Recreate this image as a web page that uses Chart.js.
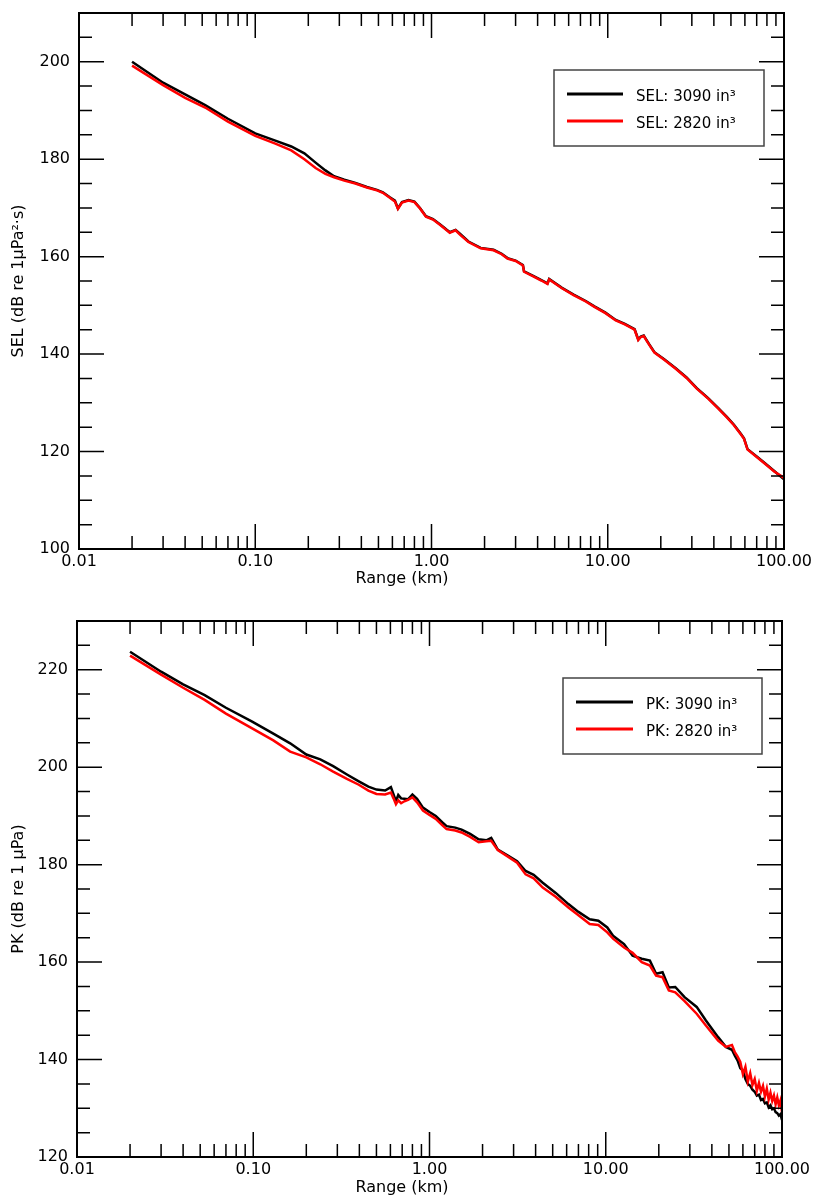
<!DOCTYPE html>
<html>
<head>
<meta charset="utf-8">
<script src="https://cdn.jsdelivr.net/npm/chart.js@4.4.1/dist/chart.umd.min.js"></script>
<style>
    html, body { margin: 0; padding: 0; background: #fff; overflow: hidden; }
    .panel { position: absolute; left: 0; width: 817px; height: 599px; }
</style>
</head>
<body>
<div class="panel" style="top:-10px"><canvas id="sel-chart" width="817" height="599"></canvas></div>
<div class="panel" style="top:599px"><canvas id="pk-chart" width="817" height="599"></canvas></div>
<script>
// Range (km) for the SEL panel
const rangeSel = [0.02, 0.03, 0.04, 0.052, 0.07, 0.1, 0.13, 0.16, 0.19, 0.22, 0.25, 0.28, 0.32, 0.37, 0.43,
    0.49, 0.53, 0.58, 0.62, 0.645, 0.68, 0.74, 0.8, 0.86, 0.93, 1.02, 1.13, 1.22, 1.27, 1.37, 1.45, 1.62,
    1.9, 2.25, 2.5, 2.7, 3.0, 3.3, 3.35, 3.8, 4.2, 4.55, 4.65, 5.5, 6.4, 7.5, 8.4, 9.7, 11.1, 12.5, 14.2,
    14.9, 15.4, 16.0, 17.2, 18.4, 21, 24.3, 28, 32, 37, 42.4, 47.4, 52, 57, 59.3, 62.1, 70, 78, 88, 100];
const sel3090 = [200.0, 195.7, 193.3, 191.1, 188.3, 185.3, 183.8, 182.6, 181.2, 179.3, 177.7, 176.5, 175.8, 175.1, 174.3,
    173.7, 173.2, 172.2, 171.5, 169.9, 171.2, 171.6, 171.3, 170.0, 168.3, 167.7, 166.5, 165.5, 165.0, 165.5, 164.7, 163.1,
    161.8, 161.4, 160.6, 159.7, 159.2, 158.3, 157.0, 156.0, 155.2, 154.5, 155.4, 153.6, 152.2, 150.9, 149.8, 148.5, 147.0, 146.2, 145.1,
    143.0, 143.6, 143.8, 142.0, 140.4, 138.9, 137.1, 135.2, 133.0, 131.0, 128.9, 127.1, 125.5, 123.6, 122.7, 120.5, 119.0, 117.6, 116.0, 114.3];
const sel2820 = [199.2, 195.2, 192.6, 190.6, 187.7, 184.8, 183.2, 181.8, 180.0, 178.2, 177.0, 176.3, 175.6, 175.0, 174.2,
    173.6, 173.1, 172.1, 171.3, 169.8, 171.1, 171.5, 171.2, 169.9, 168.2, 167.6, 166.4, 165.4, 164.9, 165.4, 164.5, 163.0,
    161.7, 161.3, 160.5, 159.6, 159.1, 158.2, 156.9, 155.9, 155.1, 154.4, 155.3, 153.5, 152.1, 150.8, 149.7, 148.4, 146.9, 146.1, 145.0,
    142.9, 143.5, 143.7, 141.9, 140.3, 138.8, 137.0, 135.1, 132.9, 130.9, 128.8, 127.0, 125.4, 123.5, 122.6, 120.4, 118.9, 117.5, 115.9, 114.6];

// Range (km) for the PK panel
const rangePk = [0.02, 0.03, 0.04, 0.053, 0.07, 0.098, 0.13, 0.162, 0.2, 0.24, 0.284, 0.34, 0.397, 0.45, 0.5, 0.56,
    0.604, 0.625, 0.645, 0.665, 0.69, 0.72, 0.755, 0.8, 0.85, 0.918, 1.0, 1.085, 1.18, 1.25, 1.4, 1.52, 1.7, 1.9,
    2.1, 2.24, 2.44, 2.8, 3.14, 3.51, 3.9, 4.39, 5.2, 6.14, 7.0, 8.11, 9.08, 10.2, 11.0, 12.7, 14.2, 16, 17.8,
    19.3, 21.0, 22.8, 24.8, 28, 32.8, 37, 43.4, 48, 52, 54, 56, 58, 60, 62, 64, 66, 68, 70, 72, 74, 76, 78, 80,
    82, 84, 86, 88, 90, 92, 94, 96, 98, 100];
const pk3090 = [223.7, 219.6, 217.0, 214.8, 212.2, 209.4, 206.9, 204.9, 202.6, 201.6, 200.2, 198.5, 197.1, 196.0, 195.4, 195.2,
    195.9, 194.4, 193.0, 194.3, 193.6, 193.5, 193.4, 194.4, 193.5, 191.7, 190.8, 190.0, 188.7, 187.9, 187.6, 187.2, 186.3, 185.2,
    185.0, 185.5, 183.1, 181.8, 180.7, 178.7, 177.9, 176.3, 174.2, 171.9, 170.3, 168.8, 168.5, 167.1, 165.4, 163.7, 161.3, 160.7, 160.3,
    157.6, 157.9, 154.8, 154.9, 152.8, 150.8, 148.0, 144.6, 142.6, 142.0, 140.8, 139.8, 138.2, 137.8, 136.0, 135.0, 134.6, 133.8, 133.4, 132.6, 132.8, 131.7, 131.9, 131.0,
    131.2, 130.2, 130.6, 129.8, 130.0, 129.2, 129.0, 128.5, 128.8, 127.6];
const pk2820 = [222.9, 219.0, 216.3, 213.8, 211.0, 208.0, 205.5, 203.2, 202.0, 200.6, 199.1, 197.6, 196.4, 195.2, 194.5, 194.4,
    194.8, 193.6, 192.4, 193.2, 192.6, 193.0, 193.3, 193.8, 192.8, 191.1, 190.2, 189.4, 188.1, 187.3, 187.0, 186.6, 185.7, 184.6,
    184.8, 184.9, 183.0, 181.6, 180.4, 178.0, 177.2, 175.3, 173.4, 171.2, 169.6, 167.8, 167.6, 166.1, 164.8, 163.0, 161.9, 160.0, 159.3,
    157.2, 156.9, 154.2, 153.8, 152.0, 149.4, 147.0, 143.9, 142.6, 143.0, 141.5, 140.6, 139.5, 137.0, 138.5, 135.5, 137.2, 134.8, 136.0, 133.6, 135.2, 133.4, 134.6, 132.4,
    134.0, 131.8, 133.2, 131.5, 132.6, 130.8, 132.2, 130.6, 131.6, 129.2];

const rangeTicks = [0.01, 0.1, 1, 10, 100];
const selTicks = [100, 120, 140, 160, 180, 200];
const pkTicks = [120, 140, 160, 180, 200, 220];
const selLabels = ['SEL: 3090 in³', 'SEL: 2820 in³'];
const pkLabels = ['PK: 3090 in³', 'PK: 2820 in³'];

const FONT = '"DejaVu Sans", Verdana, sans-serif';
Chart.defaults.font.family = FONT;
Chart.defaults.color = '#000';

// Frame, inward ticks on all four sides, axis titles and the legend box
const boxAxes = {
    id: 'boxAxes',
    afterDatasetsDraw(chart, args, opts) {
        const ctx = chart.ctx;
        const a = chart.chartArea;
        const x = chart.scales.x, y = chart.scales.y;
        ctx.save();

        // ticks
        ctx.strokeStyle = '#000';
        ctx.lineWidth = 1.5;
        ctx.beginPath();
        for (let e = -2; e < 2; e++) {
            for (let m = 1; m < 10; m++) {
                const px = x.getPixelForValue(m * Math.pow(10, e));
                const len = m === 1 ? 25 : 13;
                ctx.moveTo(px, a.bottom); ctx.lineTo(px, a.bottom - len);
                ctx.moveTo(px, a.top); ctx.lineTo(px, a.top + len);
            }
        }
        for (let v = y.min; v <= y.max; v += 5) {
            const py = y.getPixelForValue(v);
            const len = v % 20 === 0 ? 25 : 13;
            ctx.moveTo(a.left, py); ctx.lineTo(a.left + len, py);
            ctx.moveTo(a.right, py); ctx.lineTo(a.right - len, py);
        }
        ctx.stroke();

        // frame
        ctx.lineWidth = 2;
        ctx.strokeRect(a.left, a.top, a.right - a.left, a.bottom - a.top);

        // axis titles
        ctx.fillStyle = '#000';
        ctx.font = '16px ' + FONT;
        ctx.textAlign = 'center';
        ctx.textBaseline = 'middle';
        ctx.fillText(opts.xTitle, opts.xTitleX, a.bottom + opts.xTitleDy);
        ctx.save();
        ctx.translate(opts.yTitleX, (a.top + a.bottom) / 2);
        ctx.rotate(-Math.PI / 2);
        ctx.fillText(opts.yTitle, 0, 0);
        ctx.restore();

        // legend
        const L = opts.legend;
        ctx.fillStyle = '#fff';
        ctx.fillRect(L.left, L.top, L.right - L.left, L.bottom - L.top);
        ctx.strokeStyle = '#444';
        ctx.lineWidth = 1.5;
        ctx.strokeRect(L.left, L.top, L.right - L.left, L.bottom - L.top);
        ctx.font = '15px ' + FONT;
        ctx.textAlign = 'left';
        ctx.textBaseline = 'alphabetic';
        chart.data.datasets.forEach((ds, i) => {
            const yy = L.rows[i];
            ctx.strokeStyle = ds.borderColor;
            ctx.lineWidth = 3;
            ctx.beginPath();
            ctx.moveTo(L.lineFrom, yy);
            ctx.lineTo(L.lineTo, yy);
            ctx.stroke();
            ctx.fillStyle = '#000';
            ctx.fillText(ds.label, L.textX, yy + 7);
        });
        ctx.restore();
    }
};

function toPoints(xs, ys) {
    return xs.map((r, i) => ({ x: r, y: ys[i] }));
}

function makeChart(id, opts) {
    const ctx = document.getElementById(id);
    return new Chart(ctx, {
        type: 'line',
        data: {
            datasets: [{
                label: opts.labels[0],
                data: toPoints(opts.range, opts.black),
                borderColor: '#000000',
                borderWidth: 2.5,
                order: 1
            }, {
                label: opts.labels[1],
                data: toPoints(opts.range, opts.red),
                borderColor: '#ff0000',
                borderWidth: 2.5,
                order: 0
            }]
        },
        options: {
            responsive: false,
            animation: false,
            events: [],
            elements: {
                point: { radius: 0 },
                line: { tension: 0, fill: false }
            },
            layout: {
                padding: { left: 0, right: opts.padRight, top: opts.padTop, bottom: 0 }
            },
            plugins: {
                legend: { display: false },
                tooltip: { enabled: false },
                boxAxes: opts.deco
            },
            scales: {
                x: {
                    type: 'logarithmic',
                    min: 0.01,
                    max: 100,
                    grid: { display: false, drawTicks: false },
                    border: { display: false },
                    afterBuildTicks: s => { s.ticks = rangeTicks.map(v => ({ value: v })); },
                    afterFit: s => { s.height = opts.xHeight; },
                    ticks: {
                        autoSkip: false,
                        maxRotation: 0,
                        padding: 3,
                        font: { size: 16 },
                        callback: v => Number(v).toFixed(2)
                    }
                },
                y: {
                    type: 'linear',
                    min: opts.yMin,
                    max: opts.yMax,
                    grid: { display: false, drawTicks: false },
                    border: { display: false },
                    afterBuildTicks: s => { s.ticks = opts.yTicks.map(v => ({ value: v })); },
                    afterFit: s => { s.width = opts.yWidth; },
                    ticks: {
                        padding: 9,
                        font: { size: 16 },
                        callback: v => String(v)
                    }
                }
            }
        },
        plugins: [boxAxes]
    });
}

// top panel canvas sits 10px above the page top
makeChart('sel-chart', {
    range: rangeSel, black: sel3090, red: sel2820, labels: selLabels,
    yMin: 100, yMax: 210, yTicks: selTicks,
    yWidth: 79, xHeight: 40, padTop: 23, padRight: 33,
    deco: {
        xTitle: 'Range (km)', xTitleX: 402, xTitleDy: 30,
        yTitle: 'SEL (dB re 1µPa²·s)', yTitleX: 19,
        legend: { left: 554, top: 80, right: 764, bottom: 156, rows: [104, 131], lineFrom: 567, lineTo: 623, textX: 636 }
    }
});

makeChart('pk-chart', {
    range: rangePk, black: pk3090, red: pk2820, labels: pkLabels,
    yMin: 120, yMax: 230, yTicks: pkTicks,
    yWidth: 77, xHeight: 41, padTop: 22, padRight: 35,
    deco: {
        xTitle: 'Range (km)', xTitleX: 402, xTitleDy: 31,
        yTitle: 'PK (dB re 1 µPa)', yTitleX: 19,
        legend: { left: 563, top: 79, right: 762, bottom: 155, rows: [103, 130], lineFrom: 576, lineTo: 633, textX: 646 }
    }
});
</script>
</body>
</html>
